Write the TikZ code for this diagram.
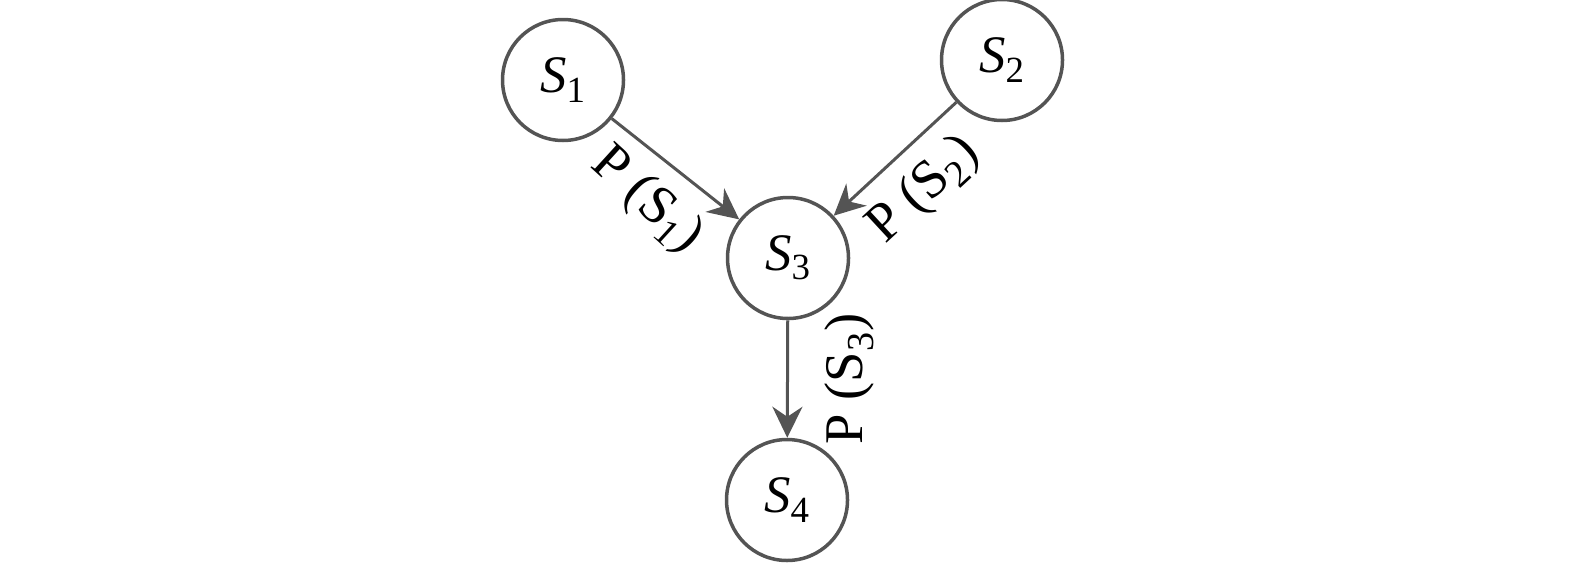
\documentclass[tikz,border=0pt]{standalone}
\usepackage{fontspec}
\setmainfont{Liberation Serif}
\usetikzlibrary{arrows.meta}

\begin{document}
\begin{tikzpicture}[
state/.style={circle, draw=black!67, line width=0.07cm, minimum size=2.42cm, inner sep=0pt, font=\fontsize{30}{32}\selectfont},
arrow/.style={-{Stealth[length=0.62cm, width=0.6cm]}, draw=black!67, line width=0.06cm},
prob/.style={font=\fontsize{31}{33}\selectfont, inner sep=0.33cm}
]
\useasboundingbox (0,0) rectangle (31.5,-11.34);

% States
\node[state] (s1) at (11.26,-1.6) {\textit{S}\textsubscript{1}};
\node[state] (s2) at (20.04,-1.2) {\textit{S}\textsubscript{2}};
\node[state] (s3) at (15.76,-5.16) {\textit{S}\textsubscript{3}};
\node[state] (s4) at (15.74,-10.0) {\textit{S}\textsubscript{4}};

% Transitions with probabilities
\draw[arrow] (s1) -- (s3) node[prob, midway, sloped, below, rotate=-4] {P (S\textsubscript{1})};
\draw[arrow] (s2) -- (s3) node[prob, midway, sloped, below] {P (S\textsubscript{2})};
\draw[arrow] (s3) -- (s4) node[prob, midway, rotate=90, anchor=north, inner sep=0.72cm] {P (S\textsubscript{3})};

\end{tikzpicture}
\end{document}
